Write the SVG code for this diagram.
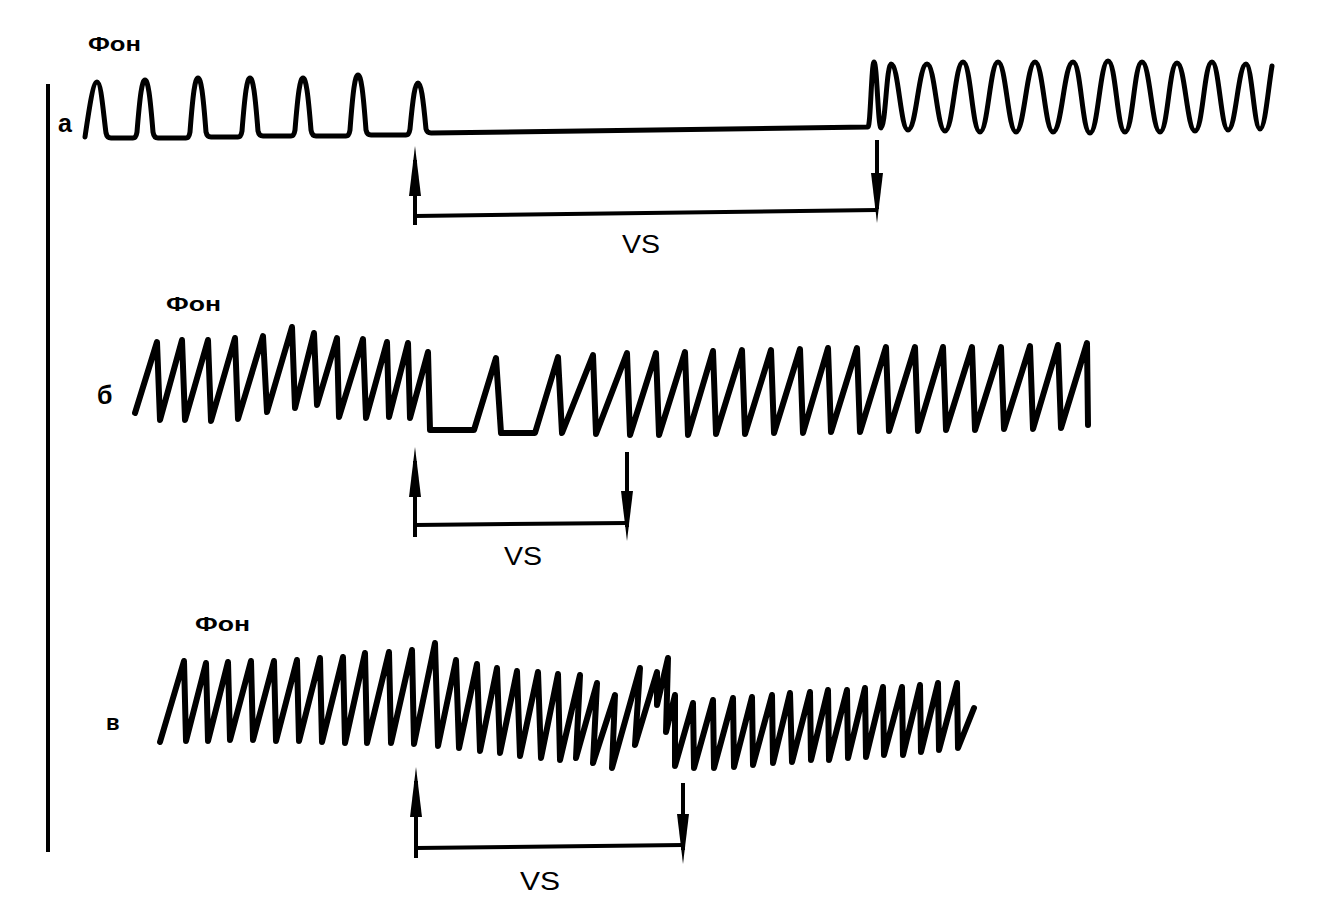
<svg xmlns="http://www.w3.org/2000/svg" width="1335" height="909" viewBox="0 0 1335 909">
<style>
.tr{fill:none;stroke:#000;stroke-width:5;stroke-linejoin:round;stroke-linecap:round}
.tr2{fill:none;stroke:#000;stroke-width:6;stroke-linejoin:round;stroke-linecap:round}
.ln{fill:none;stroke:#000;stroke-width:4}
.lbl{font-family:"Liberation Sans",Arial,sans-serif;font-weight:bold;fill:#000}
.vs{font-family:"Liberation Sans",Arial,sans-serif;font-size:26px;fill:#000}
</style>
<defs>
<marker id="ah" viewBox="0 0 50 14" refX="36" refY="7" markerWidth="50" markerHeight="14" markerUnits="userSpaceOnUse" orient="auto">
<path d="M0,1 L50,7 L0,13 Z" fill="#000"/>
</marker>
</defs>
<rect width="1335" height="909" fill="#fff"/>
<g id="axis"><line class="ln" x1="48" y1="84" x2="48" y2="852"/></g>

<g id="panel-a">
<text class="lbl" x="88" y="51" font-size="21" textLength="53" lengthAdjust="spacingAndGlyphs">Фон</text>
<text class="lbl" x="58" y="132" font-size="25">а</text>
<path class="tr" d="M 85 137 C 89 110 93 82 97 82 C 101 82 103 110 106 133 Q 107 138 111 138 L 133 138 Q 136 138 137 132 C 140 95 142 80 145 80 C 148 80 150 95 153 132 Q 154 138 158 138 L 186 138 Q 189 138 190 132 C 193 93 195 78 198 78 C 201 78 203 93 206 132 Q 207 137 211 137 L 238 137 Q 241 137 242 131 C 245 93 247 78 250 78 C 253 78 255 93 258 131 Q 259 136 263 136 L 291 136 Q 294 136 295 130 C 298 93 300 78 303 78 C 306 78 308 93 311 130 Q 312 136 316 136 L 346 136 Q 349 136 350 130 C 353 90 355 75 358 75 C 361 75 363 90 366 130 Q 367 135 371 135 L 406 135 Q 409 135 410 129 C 413 97 415 83 418 83 C 421 83 423 97 426 129 Q 427 133 431 133 L 868 127 C 870.5 127 871.5 62 874 62 C 877 62 878 128 881 128 C 885.5 128 886.5 64 891 64 C 898.6 64 900.4 130 908 130 C 916.5 130 918.5 64 927 64 C 935 64 937 131 945 131 C 953 131 955 62 963 62 C 971 62 972 132 980 132 C 988 132 990 62 998 62 C 1006 62 1008 132 1016 132 C 1024 132 1027 62 1035 62 C 1043 62 1045 132 1053 132 C 1062 132 1064 62 1073 62 C 1081 62 1082 133 1090 133 C 1098 133 1100 61 1108 61 C 1116 61 1117 132 1125 132 C 1133 132 1134 62 1142 62 C 1150 62 1152 132 1160 132 C 1168 132 1169 63 1177 63 C 1185 63 1187 131 1195 131 C 1203 131 1204 62 1212 62 C 1219 62 1221 130 1228 130 C 1236 130 1238 64 1246 64 C 1252 64 1254 129 1260 129 C 1265 129 1268 90 1272 66"/>
<text class="vs" x="641" y="253" text-anchor="middle" textLength="38" lengthAdjust="spacingAndGlyphs">VS</text>
</g>

<g id="panel-b">
<text class="lbl" x="166" y="311" font-size="21" textLength="55" lengthAdjust="spacingAndGlyphs">Фон</text>
<text class="lbl" x="97" y="404" font-size="25">б</text>
<path class="tr2" d="M 135 413 L 157 342 L 160 420 L 182 340 L 185 420 L 208 340 L 211 421 L 235 338 L 238 419 L 263 336 L 267 412 L 292 327 L 295 408 L 314 333 L 317 405 L 337 338 L 339 417 L 363 339 L 366 418 L 387 342 L 389 417 L 408 343 L 410 418 L 428 352 L 430 430 L 474 430 L 496 358 L 501 433 L 535 433 L 558 357 L 562 433 L 593 355 L 596 434 L 627 353 L 630 435 L 656 353 L 659 435 L 685 352 L 688 435 L 713 351 L 716 434 L 742 350 L 745 434 L 771 350 L 774 433 L 800 349 L 803 433 L 828 348 L 831 432 L 857 348 L 860 432 L 886 347 L 889 431 L 915 347 L 918 431 L 943 347 L 946 430 L 972 347 L 975 430 L 1001 347 L 1004 429 L 1030 346 L 1033 429 L 1058 345 L 1061 428 L 1087 343 L 1088 425"/>
<text class="vs" x="523" y="565" text-anchor="middle" textLength="38" lengthAdjust="spacingAndGlyphs">VS</text>
</g>

<g id="panel-v">
<text class="lbl" x="195" y="631" font-size="21" textLength="55" lengthAdjust="spacingAndGlyphs">Фон</text>
<text class="lbl" x="106" y="730" font-size="22">в</text>
<path class="tr2" d="M 160 742 L 184 661 L 186 741 L 206 663 L 208 741 L 228 662 L 230 740 L 251 661 L 253 740 L 274 661 L 276 741 L 297 660 L 299 741 L 320 658 L 322 742 L 343 657 L 345 743 L 365 653 L 367 743 L 389 652 L 391 743 L 412 650 L 414 744 L 435 643 L 438 746 L 456 660 L 459 748 L 477 664 L 480 751 L 497 668 L 500 753 L 517 671 L 520 756 L 538 672 L 541 758 L 558 674 L 560 760 L 580 675 L 576 758 L 597 683 L 593 763 L 615 695 L 612 768 L 640 668 L 635 745 L 657 672 L 657 705 L 668 658 L 666 732 L 675 695 L 675 766 L 693 703 L 694 768 L 713 700 L 714 768 L 733 698 L 734 767 L 752 697 L 753 765 L 772 695 L 773 763 L 790 693 L 792 762 L 810 692 L 811 760 L 828 690 L 829 760 L 847 690 L 848 758 L 865 688 L 866 757 L 883 687 L 884 755 L 902 687 L 903 755 L 920 685 L 921 752 L 938 683 L 939 750 L 957 683 L 958 748 L 974 708"/>
<text class="vs" x="540" y="890" text-anchor="middle" textLength="40" lengthAdjust="spacingAndGlyphs">VS</text>
</g>

<g id="connectors">
<line class="ln" x1="415" y1="225" x2="415" y2="160" marker-end="url(#ah)"/>
<line class="ln" x1="877" y1="140" x2="877" y2="209" marker-end="url(#ah)"/>
<line class="ln" x1="415" y1="216" x2="877" y2="210"/>
<line class="ln" x1="415" y1="537" x2="415" y2="461" marker-end="url(#ah)"/>
<line class="ln" x1="627" y1="452" x2="627" y2="527" marker-end="url(#ah)"/>
<line class="ln" x1="415" y1="525" x2="627" y2="523"/>
<line class="ln" x1="416" y1="858" x2="416" y2="781" marker-end="url(#ah)"/>
<line class="ln" x1="683" y1="783" x2="683" y2="850" marker-end="url(#ah)"/>
<line class="ln" x1="416" y1="848" x2="683" y2="845"/>
</g>
</svg>
